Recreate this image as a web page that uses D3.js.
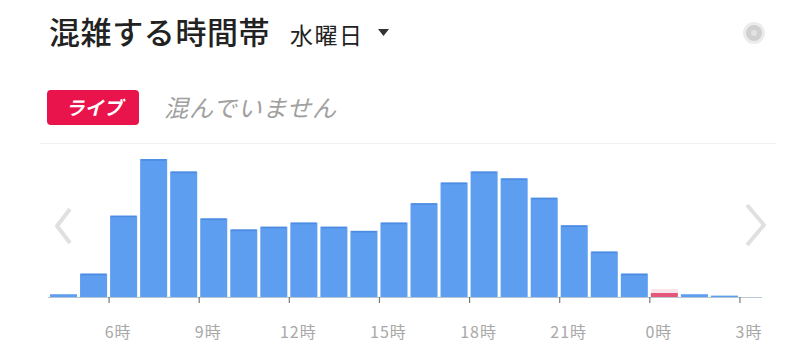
<!DOCTYPE html>
<html>
<head>
<meta charset="utf-8">
<script src="https://cdn.jsdelivr.net/npm/d3@7"></script>
<style>
  html, body { margin: 0; padding: 0; background: #fff; }
  svg { display: block; font-family: "Noto Sans CJK JP", "Noto Sans", sans-serif; }
</style>
</head>
<body>
<svg id="chart" width="807" height="364"></svg>
<script>
// busy-times histogram, one bar per hour from 4時 to 3時 the next morning
const hours = [4, 5, 6, 7, 8, 9, 10, 11, 12, 13, 14, 15, 16, 17, 18, 19, 20, 21, 22, 23, 24, 25, 26, 27];
const busy = [2, 17, 59, 100, 91, 57, 49, 51, 54, 51, 48, 54, 68, 83, 91, 86, 72, 52, 33, 17, 3, 2, 1, 0];
const liveHour = 24;          // the red "now" bar (0時)
const tickHours = [6, 9, 12, 15, 18, 21, 24, 27];

const title = "混雑する時間帯";
const dayLabel = "水曜日";
const liveBadge = "ライブ";
const liveText = "混んでいません";

const svg = d3.select("#chart");

/* ---- header ---- */
svg.append("text").attr("x", 49).attr("y", 44)
  .attr("font-size", 31).attr("font-weight", 500).attr("letter-spacing", 0.6)
  .attr("fill", "#222").text(title);
svg.append("text").attr("x", 290).attr("y", 44)
  .attr("font-size", 23).attr("letter-spacing", 1.5).attr("fill", "#222").text(dayLabel);
svg.append("path").attr("d", "M378,29 l11,0 l-5.5,7 Z").attr("fill", "#333");

// settings icon, blurry grey gear
const gear = svg.append("g").attr("transform", "translate(754,33)");
gear.append("circle").attr("r", 11).attr("fill", "#ececec");
gear.append("circle").attr("r", 8).attr("fill", "#d0d0d0");
gear.append("circle").attr("r", 3).attr("fill", "#e2e2e2");

/* ---- live badge ---- */
svg.append("rect").attr("x", 47).attr("y", 90).attr("width", 92).attr("height", 35)
  .attr("rx", 4).attr("fill", "#e8144b");
svg.append("text").attr("x", 94).attr("y", 115).attr("text-anchor", "middle")
  .attr("font-size", 19).attr("font-weight", 700).attr("font-style", "italic")
  .attr("fill", "#fff").text(liveBadge);
svg.append("text").attr("x", 164).attr("y", 117)
  .attr("font-size", 24).attr("font-style", "italic").attr("fill", "#a0a0a0")
  .attr("letter-spacing", 1).text(liveText);

/* ---- chart ---- */
const left = 48.5, right = 769.5, baseY = 297, topY = 159;
const x = d3.scaleBand().domain(hours).range([left, right]).paddingInner(0.1).paddingOuter(0.05);
const xl = d3.scaleLinear().domain([hours[0], hours[hours.length - 1] + 1]).range([left, right]);
const y = d3.scaleLinear().domain([0, 100]).range([baseY, topY]);

// faint top rule
svg.append("line").attr("x1", 40).attr("x2", 776).attr("y1", 143.5).attr("y2", 143.5)
  .attr("stroke", "#f1f1f1").attr("stroke-width", 1);

// bars
svg.append("g").selectAll("rect").data(hours).join("rect")
  .attr("x", (h) => x(h))
  .attr("width", x.bandwidth())
  .attr("y", (h, i) => y(busy[i]))
  .attr("height", (h, i) => baseY - y(busy[i]))
  .attr("fill", (h) => h === liveHour ? "#e4577a" : "#5d9ef0");

// pale highlight behind the live bar
svg.append("rect").attr("x", x(liveHour)).attr("width", x.bandwidth())
  .attr("y", baseY - 8).attr("height", 8 - (baseY - y(busy[hours.indexOf(liveHour)])))
  .attr("fill", "#f9e4ea");

// darker cap on each bar
svg.append("g").selectAll("line").data(hours.filter((h, i) => busy[i] > 5)).join("line")
  .attr("x1", (h) => x(h) + 1).attr("x2", (h) => x(h) + x.bandwidth() - 1)
  .attr("y1", (h) => y(busy[hours.indexOf(h)]) + 1).attr("y2", (h) => y(busy[hours.indexOf(h)]) + 1)
  .attr("stroke", "#4d8be0").attr("stroke-width", 1.5);

// baseline
svg.append("line").attr("x1", 48).attr("x2", 762).attr("y1", baseY + 0.5).attr("y2", baseY + 0.5)
  .attr("stroke", "#b9c6d6").attr("stroke-width", 1);

// axis
const axis = svg.append("g").attr("transform", `translate(0,${baseY})`)
  .call(d3.axisBottom(xl).tickValues(tickHours).tickSize(6).tickPadding(24)
    .tickFormat((h) => (h % 24) + "時"));
axis.select(".domain").remove();
axis.selectAll(".tick line").attr("stroke", "#777").attr("stroke-width", 1.2);
axis.selectAll(".tick text").attr("fill", "#a8a8a8").attr("font-size", 16)
  .attr("letter-spacing", 1)
  .attr("font-family", "\"Noto Sans CJK JP\", sans-serif").attr("dx", 9);

/* ---- scroll arrows ---- */
svg.append("path").attr("d", "M70,209 L57,226 L70,243").attr("fill", "none")
  .attr("stroke", "#e0e0e0").attr("stroke-width", 4).attr("stroke-linejoin", "round");
svg.append("path").attr("d", "M747,205 L764,225 L747,245").attr("fill", "none")
  .attr("stroke", "#e0e0e0").attr("stroke-width", 4).attr("stroke-linejoin", "round");
</script>
</body>
</html>
